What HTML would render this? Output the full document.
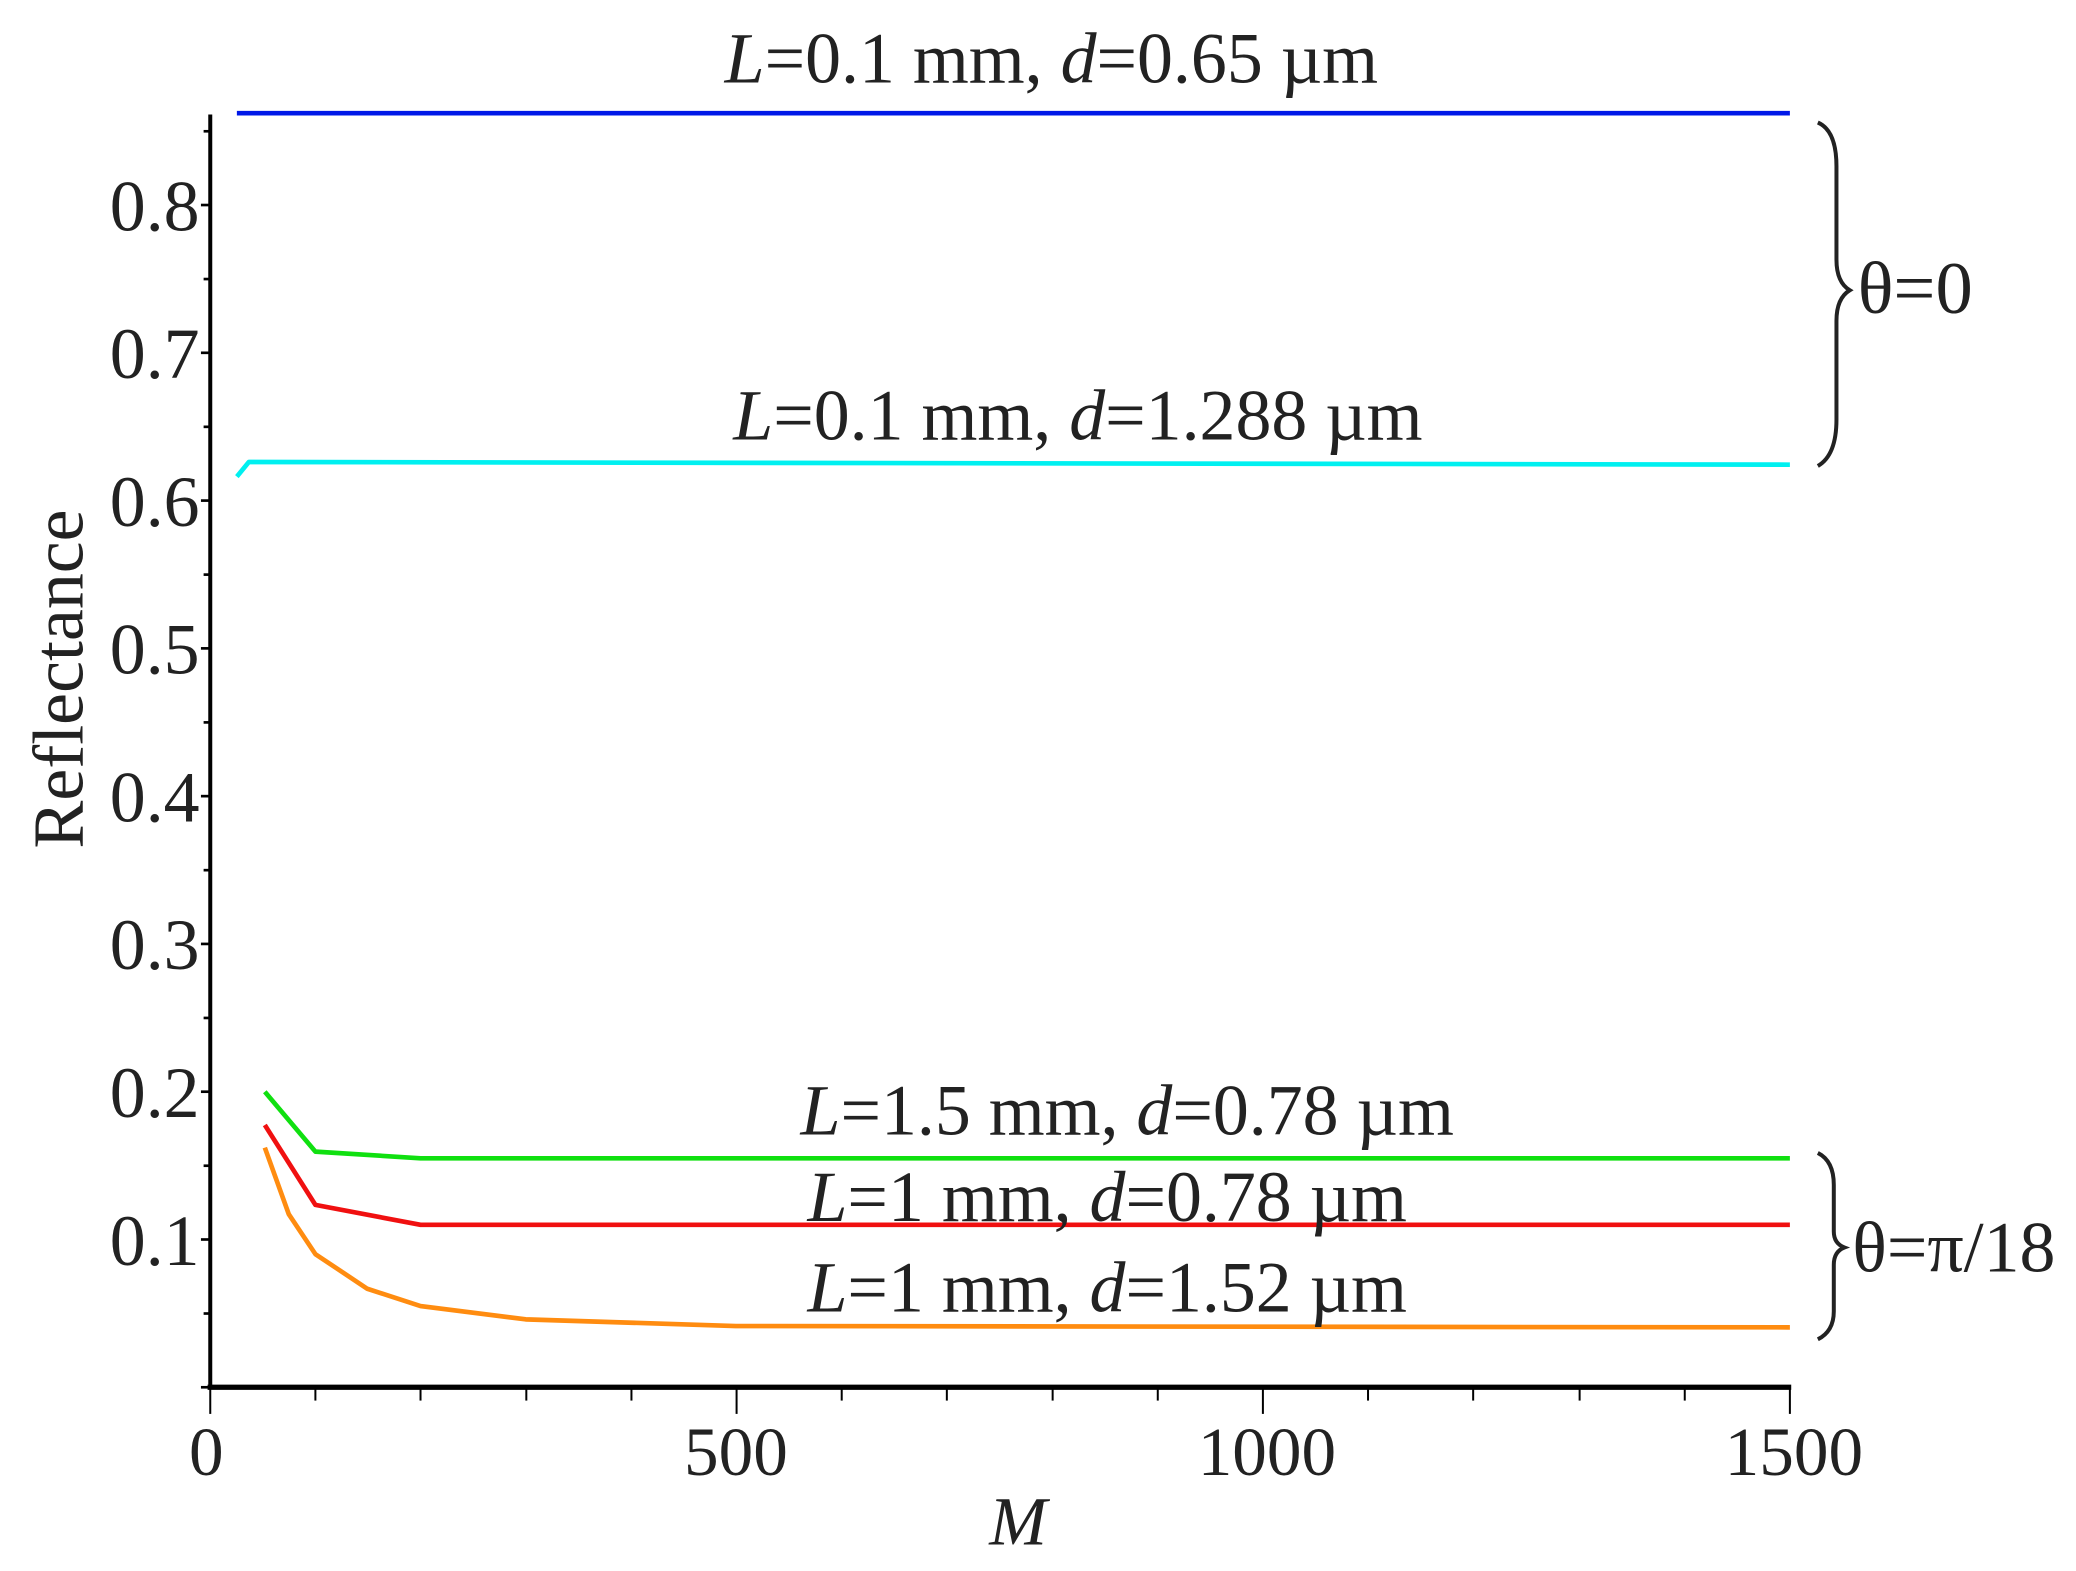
<!DOCTYPE html>
<html><head><meta charset="utf-8"><style>
html,body{margin:0;padding:0;background:#fff;}
svg{display:block;}
text{font-family:"Liberation Serif",serif;fill:#222;}
</style></head><body>
<svg width="2076" height="1571" viewBox="0 0 1560 1180" preserveAspectRatio="none" xmlns="http://www.w3.org/2000/svg">
<line x1="158" y1="86" x2="158" y2="1043" stroke="#000" stroke-width="3"/>
<line x1="156" y1="1042" x2="1346" y2="1042" stroke="#000" stroke-width="4"/>
<g stroke="#000" stroke-width="2">
<line x1="151" y1="1042" x2="158" y2="1042"/>
<line x1="153" y1="986.6" x2="158" y2="986.6"/>
<line x1="151" y1="931" x2="158" y2="931"/>
<line x1="153" y1="875.6" x2="158" y2="875.6"/>
<line x1="151" y1="820" x2="158" y2="820"/>
<line x1="153" y1="764.6" x2="158" y2="764.6"/>
<line x1="151" y1="709" x2="158" y2="709"/>
<line x1="153" y1="653.6" x2="158" y2="653.6"/>
<line x1="151" y1="598" x2="158" y2="598"/>
<line x1="153" y1="542.6" x2="158" y2="542.6"/>
<line x1="151" y1="487" x2="158" y2="487"/>
<line x1="153" y1="431.6" x2="158" y2="431.6"/>
<line x1="151" y1="376" x2="158" y2="376"/>
<line x1="153" y1="320.6" x2="158" y2="320.6"/>
<line x1="151" y1="265" x2="158" y2="265"/>
<line x1="153" y1="209.6" x2="158" y2="209.6"/>
<line x1="151" y1="154" x2="158" y2="154"/>
<line x1="153" y1="98.6" x2="158" y2="98.6"/>
</g>
<g stroke="#000" stroke-width="1.5">
<line x1="158" y1="1042" x2="158" y2="1062"/>
<line x1="237" y1="1042" x2="237" y2="1052"/>
<line x1="316" y1="1042" x2="316" y2="1052"/>
<line x1="395.5" y1="1042" x2="395.5" y2="1052"/>
<line x1="474.5" y1="1042" x2="474.5" y2="1052"/>
<line x1="553.5" y1="1042" x2="553.5" y2="1062"/>
<line x1="632.5" y1="1042" x2="632.5" y2="1052"/>
<line x1="711.5" y1="1042" x2="711.5" y2="1052"/>
<line x1="791" y1="1042" x2="791" y2="1052"/>
<line x1="870" y1="1042" x2="870" y2="1052"/>
<line x1="949" y1="1042" x2="949" y2="1062"/>
<line x1="1028" y1="1042" x2="1028" y2="1052"/>
<line x1="1107" y1="1042" x2="1107" y2="1052"/>
<line x1="1187" y1="1042" x2="1187" y2="1052"/>
<line x1="1266" y1="1042" x2="1266" y2="1052"/>
<line x1="1345" y1="1042" x2="1345" y2="1062"/>
</g>
<g font-size="54" text-anchor="end">
<text x="150" y="173">0.8</text>
<text x="150" y="284">0.7</text>
<text x="150" y="395">0.6</text>
<text x="150" y="506">0.5</text>
<text x="150" y="617">0.4</text>
<text x="150" y="728">0.3</text>
<text x="150" y="839">0.2</text>
<text x="150" y="950">0.1</text>
</g>
<g font-size="52" text-anchor="middle">
<text x="155" y="1108">0</text>
<text x="553" y="1108">500</text>
<text x="952" y="1108">1000</text>
<text x="1348" y="1108">1500</text>
</g>
<text x="765" y="1160" font-size="52" font-style="italic" text-anchor="middle">M</text>
<text transform="translate(62,510) rotate(-90)" font-size="54" text-anchor="middle">Reflectance</text>
<g fill="none" stroke-width="3.5" stroke-linejoin="round">
<polyline stroke="#0018e8" points="178,85 1345,85"/>
<polyline stroke="#00f0f0" points="178,358 187,347 1345,349"/>
<polyline stroke="#10e010" points="199,820 237,865 316,870 1345,870"/>
<polyline stroke="#f01010" points="199,845 237,905 316,920 1345,920"/>
<polyline stroke="#ff8c10" points="199,862 217,912 237,942 276,968 316,981 395,991 553,996 1345,997"/>
</g>
<g font-size="54" text-anchor="middle">
<text x="790" y="62"><tspan font-style="italic">L</tspan>=0.1 mm, <tspan font-style="italic">d</tspan>=0.65 µm</text>
<text x="810" y="330"><tspan font-style="italic">L</tspan>=0.1 mm, <tspan font-style="italic">d</tspan>=1.288 µm</text>
<text x="847" y="852"><tspan font-style="italic">L</tspan>=1.5 mm, <tspan font-style="italic">d</tspan>=0.78 µm</text>
<text x="832" y="917"><tspan font-style="italic">L</tspan>=1 mm, <tspan font-style="italic">d</tspan>=0.78 µm</text>
<text x="832" y="985"><tspan font-style="italic">L</tspan>=1 mm, <tspan font-style="italic">d</tspan>=1.52 µm</text>
</g>
<g fill="none" stroke="#222" stroke-width="3">
<path d="M1366,92 Q1380,98 1380,125 L1380,195 Q1380,212 1390,218 Q1380,224 1380,241 L1380,315 Q1380,342 1366,350"/>
<path d="M1366,866 Q1378,872 1378,890 L1378,925 Q1378,934 1386,937 Q1378,940 1378,950 L1378,985 Q1378,1000 1366,1006"/>
</g>
<text x="1396" y="235" font-size="56">θ=0</text>
<text x="1392" y="955" font-size="54">θ=π/18</text>
</svg>
</body></html>
